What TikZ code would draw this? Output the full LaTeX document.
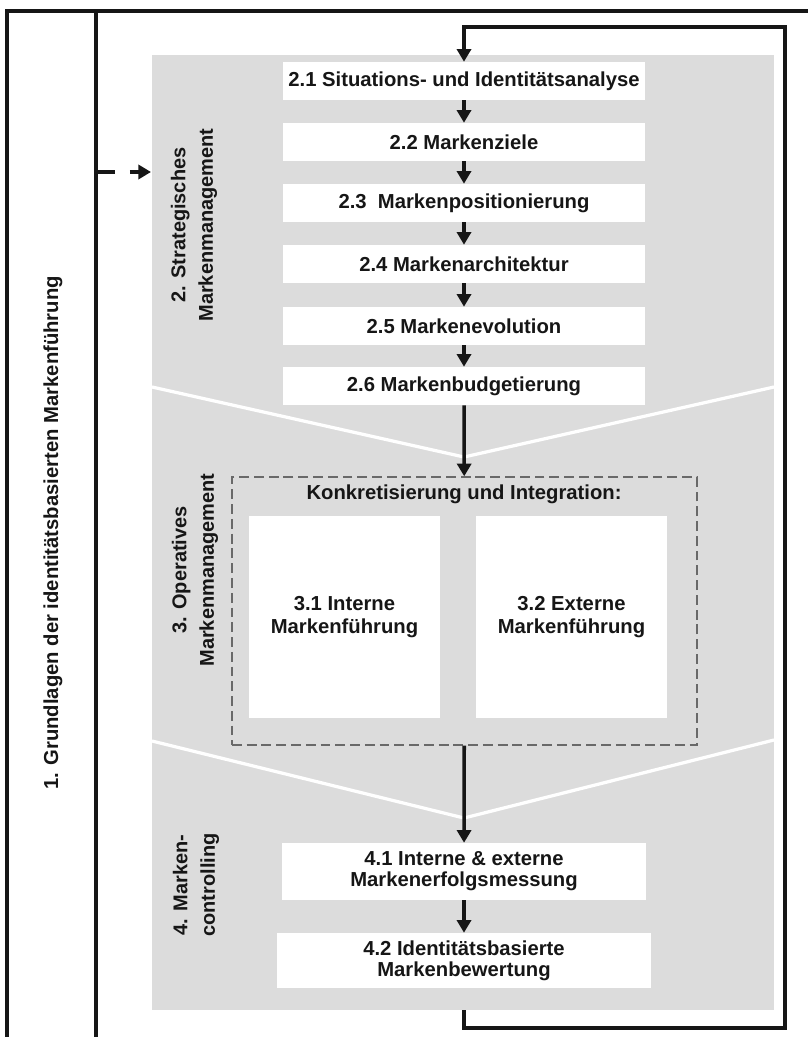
\documentclass[tikz,border=0pt]{standalone}
\usepackage{fontspec}
\setmainfont{Liberation Sans}
\definecolor{PanelGray}{RGB}{220,220,220}
\definecolor{InkDark}{RGB}{22,22,22}
\definecolor{DashGray}{RGB}{105,105,105}
\usetikzlibrary{arrows.meta,positioning}

\begin{document}
\begin{tikzpicture}[x=0.025cm,y=-0.025cm,
  every node/.style={text=InkDark,align=center,font=\bfseries\fontsize{14.4}{15}\selectfont},
  markbox/.style={fill=white,inner sep=0pt,minimum width=9.05cm,minimum height=0.95cm},
  subbox/.style={fill=white,inner sep=0pt,minimum width=4.775cm,minimum height=5.05cm,font=\bfseries\fontsize{14.4}{16.3}\selectfont},
  sidelabel/.style={rotate=90,font=\bfseries\fontsize{14.2}{19.5}\selectfont},
  flow/.style={-{Triangle[length=9pt,width=10pt]},line width=2.5pt,InkDark},
  frameline/.style={line width=2.5pt,InkDark}]
\useasboundingbox (0,0) rectangle (808,1037);
% outer frame
\draw[frameline] (7,1037) -- (7,11) -- (808,11);
\draw[frameline] (96,11) -- (96,1037);
\node[rotate=90] (grundlagen) at (53,533) {1. Grundlagen der identitätsbasierten Markenführung};
% gray panel with separators
\fill[PanelGray] (152,55) rectangle (774,1010);
\draw[white,line width=2.3pt] (152,387) -- (464,457) -- (774,387);
\draw[white,line width=2.3pt] (152,741) -- (464,818) -- (774,740);
% input from the foundations
\coordinate (grundout) at (96,172);
\coordinate (panelin) at (151,172);
\draw[flow,dash pattern=on 13.5pt off 10.6pt] (grundout) -- (panelin);
% phase labels
\node[sidelabel] (strat) at (194,225) {2. Strategisches\\Markenmanagement};
\node[sidelabel] (oper) at (195,570) {3. Operatives\\Markenmanagement};
\node[sidelabel] (contr) at (196,885) {4. Marken-\\controlling};
% strategic steps
\node[markbox] (s21) at (464,81) {2.1 Situations- und Identitätsanalyse};
\node[markbox] (s22) at (464,142) {2.2 Markenziele};
\node[markbox] (s23) at (464,203) {2.3~ Markenpositionierung};
\node[markbox] (s24) at (464,264) {2.4 Markenarchitektur};
\node[markbox] (s25) at (464,326) {2.5 Markenevolution};
\node[markbox] (s26) at (464,386) {2.6 Markenbudgetierung};
\draw[flow] (s21) -- (s22);
\draw[flow] (s22) -- (s23);
\draw[flow] (s23) -- (s24);
\draw[flow] (s24) -- (s25);
\draw[flow] (s25) -- (s26);
% operative block
\node[draw=DashGray,line width=1pt,dash pattern=on 7pt off 3.5pt,inner sep=0pt,minimum width=11.625cm,minimum height=6.7cm] (konkret) at (464.5,611) {};
\node (kontitel) at (464,494) {Konkretisierung und Integration:};
\node[subbox] (intern) at (344.5,617) {3.1 Interne\\Markenführung};
\node[subbox] (extern) at (571.5,617) {3.2 Externe\\Markenführung};
\draw[flow] (s26) -- (konkret);
% controlling
\node[markbox,minimum width=9.1cm,minimum height=1.425cm] (m41) at (464,871.5) {4.1 Interne \& externe\\Markenerfolgsmessung};
\node[markbox,minimum width=9.35cm,minimum height=1.375cm] (m42) at (464,960.5) {4.2 Identitätsbasierte\\Markenbewertung};
\draw[flow] (konkret) -- (m41);
\draw[flow] (m41) -- (m42);
% feedback loop
\coordinate (loopout) at (464,1010);
\draw[flow] (loopout) |- (785,1028) |- (464,27) -- (s21.north);
\end{tikzpicture}
\end{document}
